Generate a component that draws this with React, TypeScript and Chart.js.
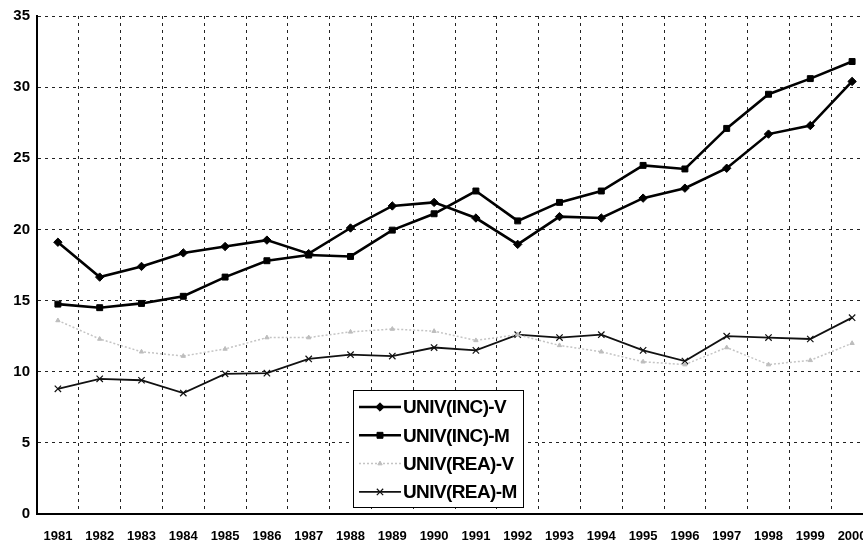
import React, { useEffect, useRef } from "react";
import { Chart, registerables } from "chart.js";
import { drawPoint } from "chart.js/helpers";

Chart.register(...registerables);

const years = ["1981","1982","1983","1984","1985","1986","1987","1988","1989","1990","1991","1992","1993","1994","1995","1996","1997","1998","1999","2000"];
const univIncV = [19.1,16.65,17.4,18.35,18.8,19.25,18.3,20.1,21.65,21.9,20.8,18.95,20.9,20.8,22.2,22.9,24.3,26.7,27.3,30.4];
const univIncM = [14.75,14.5,14.8,15.3,16.65,17.8,18.2,18.1,19.95,21.1,22.7,20.6,21.9,22.7,24.5,24.25,27.1,29.5,30.6,31.8];
const univReaV = [13.6,12.3,11.4,11.1,11.6,12.4,12.4,12.8,13.0,12.85,12.2,12.6,11.85,11.4,10.7,10.5,11.7,10.5,10.8,12.0];
const univReaM = [8.8,9.5,9.4,8.5,9.85,9.9,10.9,11.2,11.1,11.7,11.5,12.6,12.4,12.6,11.5,10.75,12.5,12.4,12.3,13.8];
const seriesNames = ["UNIV(INC)-V","UNIV(INC)-M","UNIV(REA)-V","UNIV(REA)-M"];
const yTicks = [0,5,10,15,20,25,30,35];

const legendPlugin = {
  id: "boxLegend",
  afterDraw(chart: any) {
    const ctx = chart.ctx;
    ctx.save();
    const bx = 353.5, by = 390.5, bw = 170, bh = 117;
    ctx.fillStyle = "#fff";
    ctx.fillRect(bx, by, bw, bh);
    ctx.strokeStyle = "#000";
    ctx.lineWidth = 1;
    ctx.setLineDash([]);
    ctx.strokeRect(bx, by, bw, bh);
    chart.data.datasets.forEach((ds: any, i: number) => {
      const y = 407 + i * 28.3;
      ctx.save();
      ctx.strokeStyle = ds.borderColor;
      ctx.lineWidth = ds.borderWidth;
      ctx.setLineDash(ds.borderDash || []);
      ctx.beginPath();
      ctx.moveTo(359, y);
      ctx.lineTo(401, y);
      ctx.stroke();
      ctx.restore();
      ctx.save();
      ctx.fillStyle = ds.pointBackgroundColor;
      ctx.strokeStyle = ds.pointBorderColor;
      ctx.lineWidth = ds.pointBorderWidth;
      drawPoint(ctx, { pointStyle: ds.pointStyle, radius: ds.pointRadius, rotation: 0, borderWidth: ds.pointBorderWidth }, 380, y);
      ctx.restore();
      ctx.fillStyle = "#000";
      ctx.font = 'bold 19px "Liberation Sans", Arial, sans-serif';
      try { (ctx as any).letterSpacing = "-0.6px"; } catch (e) {}
      ctx.textBaseline = "middle";
      ctx.textAlign = "left";
      ctx.fillText(seriesNames[i], 403, y + 1);
      try { (ctx as any).letterSpacing = "0px"; } catch (e) {}
    });
    ctx.restore();
  },
};

export default function App() {
  const ref = useRef<HTMLCanvasElement | null>(null);
  useEffect(() => {
    if (!ref.current) return;
    const chart = new Chart(ref.current, {
      type: "line",
      data: {
        labels: years,
        datasets: [
          { label: seriesNames[0], data: univIncV, borderColor: "#000", borderWidth: 2.6, pointStyle: "rectRot", pointRadius: 4.2, pointBackgroundColor: "#000", pointBorderColor: "#000", pointBorderWidth: 1, tension: 0 },
          { label: seriesNames[1], data: univIncM, borderColor: "#000", borderWidth: 2.6, pointStyle: "rect", pointRadius: 4.2, pointBackgroundColor: "#000", pointBorderColor: "#000", pointBorderWidth: 1, tension: 0 },
          { label: seriesNames[2], data: univReaV, borderColor: "#c4c4c4", borderWidth: 1.5, borderDash: [2, 2], pointStyle: "triangle", pointRadius: 2.5, pointBackgroundColor: "#bdbdbd", pointBorderColor: "#bdbdbd", pointBorderWidth: 1, tension: 0 },
          { label: seriesNames[3], data: univReaM, borderColor: "#111", borderWidth: 1.8, pointStyle: "crossRot", pointRadius: 4.5, pointBackgroundColor: "#111", pointBorderColor: "#111", pointBorderWidth: 1.2, tension: 0 },
        ],
      },
      options: {
        animation: false,
        responsive: false,
        events: [],
        layout: { padding: { left: 0, top: 16, right: 17, bottom: 0 } },
        plugins: { legend: { display: false }, tooltip: { enabled: false } },
        scales: {
          x: {
            offset: true,
            grid: { offset: true, color: "#222", lineWidth: 1, drawTicks: false },
            border: { display: true, color: "#000", width: 2, dash: [3, 4] },
            ticks: { color: "#000", font: { family: '"Liberation Sans", Arial, sans-serif', size: 13, weight: "bold" }, padding: 15, maxRotation: 0, autoSkip: false },
            afterFit: (s: any) => { s.height = 30; },
          },
          y: {
            min: 0,
            max: 35,
            afterBuildTicks: (s: any) => { s.ticks = yTicks.map((v) => ({ value: v })); },
            grid: { color: "#222", lineWidth: 1, drawTicks: false },
            border: { display: true, color: "#000", width: 2, dash: [3, 4] },
            ticks: { color: "#000", font: { family: '"Liberation Sans", Arial, sans-serif', size: 15, weight: "bold" }, padding: 7 },
            afterFit: (s: any) => { s.width = 37; },
          },
        },
      },
      plugins: [legendPlugin],
    });
    return () => chart.destroy();
  }, []);
  return (
    <div style={{ position: "fixed", left: 0, top: 0, width: 863, height: 544, overflow: "hidden", background: "#fff" }}>
      <canvas ref={ref} width={890} height={544} style={{ display: "block" }} />
    </div>
  );
}
